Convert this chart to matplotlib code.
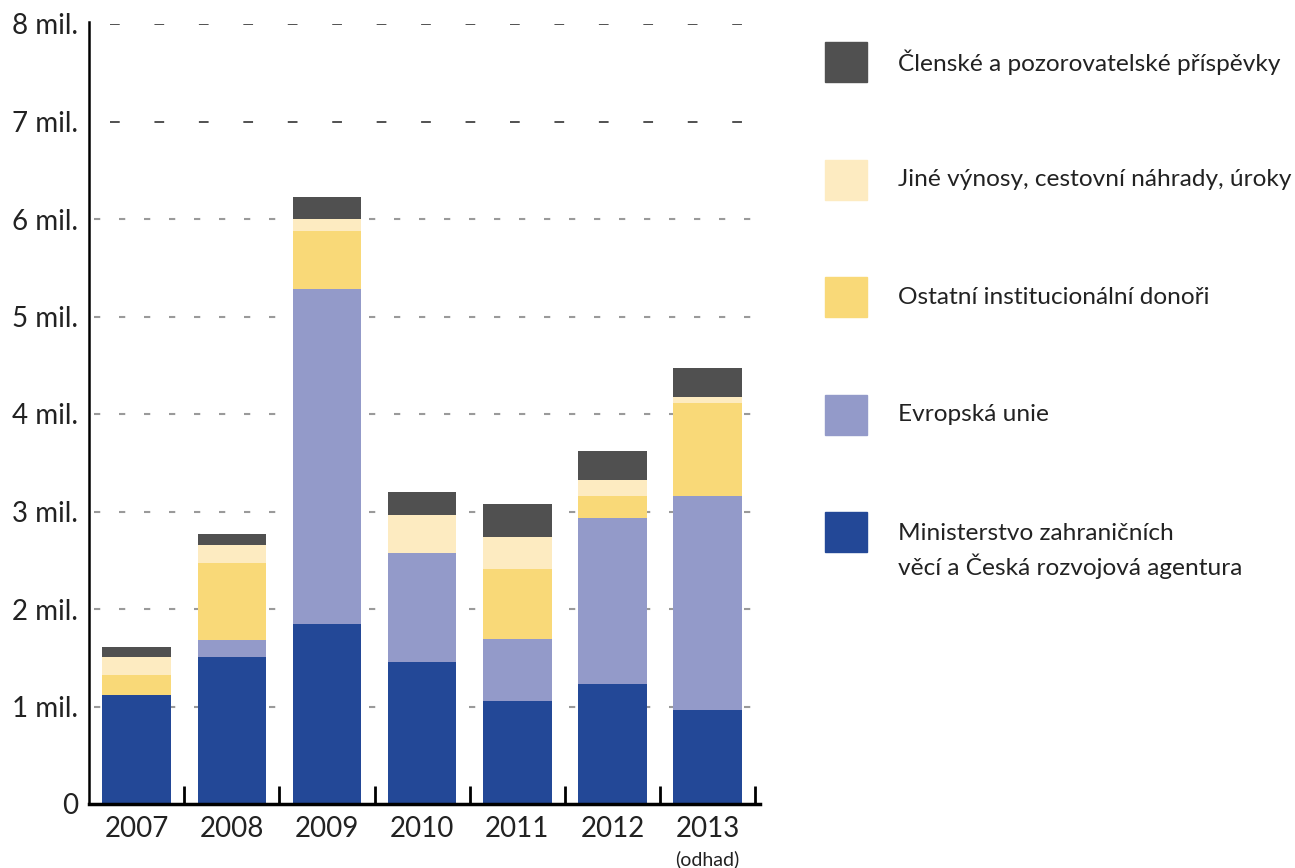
import matplotlib
matplotlib.use('Agg')
import matplotlib.pyplot as plt
from matplotlib.patches import Rectangle

plt.rcParams['font.family'] = ['Lato', 'DejaVu Sans']
plt.rcParams['lines.scale_dashes'] = False

years = ['2007', '2008', '2009', '2010', '2011', '2012', '2013']
mzv = [1.12, 1.51, 1.85, 1.46, 1.06, 1.23, 0.96]
eu = [0.0, 0.17, 3.43, 1.11, 0.63, 1.70, 2.20]
ostatni = [0.20, 0.79, 0.60, 0.0, 0.72, 0.23, 0.95]
jine = [0.19, 0.19, 0.12, 0.39, 0.33, 0.16, 0.06]
clenske = [0.10, 0.11, 0.23, 0.24, 0.34, 0.30, 0.30]

series = [
    ('Ministerstvo zahraničních\nvěcí a Česká rozvojová agentura', mzv, '#234897'),
    ('Evropská unie', eu, '#939ac9'),
    ('Ostatní institucionální donoři', ostatni, '#f9d978'),
    ('Jiné výnosy, cestovní náhrady, úroky', jine, '#fdebc1'),
    ('Členské a pozorovatelské příspěvky', clenske, '#505050'),
]
ytick_labels = ['0', '1 mil.', '2 mil.', '3 mil.', '4 mil.', '5 mil.', '6 mil.', '7 mil.', '8 mil.']

fig = plt.figure(figsize=(12.95, 8.68), dpi=100)
ax = fig.add_axes([89 / 1295, 1 - 804 / 868, (760 - 89) / 1295, (804 - 24) / 868])

x = list(range(len(years)))

# grid lines
for v in range(1, 9):
    if v >= 7:
        ax.plot([-0.28, 6.5], [v, v], color='#333333', lw=1.2, dashes=(7, 25), zorder=0)
    else:
        ax.plot([-0.45, 6.5], [v, v], color='#9a9a9a', lw=1.5, dashes=(4.5, 13.5), zorder=0)

bottom = [0.0] * len(years)
for name, vals, col in series:
    ax.bar(x, vals, width=0.72, bottom=bottom, color=col, zorder=2)
    bottom = [b + v for b, v in zip(bottom, vals)]

ax.set_xlim(-0.5, 6.55)
ax.set_ylim(0, 8)

for s in ['top', 'right']:
    ax.spines[s].set_visible(False)
ax.spines['left'].set_linewidth(1.8)
ax.spines['bottom'].set_linewidth(2.5)
ax.spines['left'].set_bounds(0, 8.02)

ax.set_yticks(range(9))
ax.set_yticklabels(ytick_labels, fontsize=20, color='#222222')
ax.tick_params(axis='y', length=0, pad=8)

ax.set_xticks([i + 0.5 for i in x])
ax.set_xticklabels([])
ax.tick_params(axis='x', direction='in', length=13, width=2, color='black')
for i, yr in enumerate(years):
    ax.text(i, -0.12, yr, ha='center', va='top', fontsize=20, color='#222222')
ax.text(6, -0.47, '(odhad)', ha='center', va='top', fontsize=14, color='#222222')

# legend drawn manually on the right
leg_tops = [42, 160, 277, 395, 512]
for (name, vals, col), top in zip(series[::-1], leg_tops):
    fig.patches.append(Rectangle((825 / 1295, 1 - (top + 40) / 868), 42 / 1295, 40 / 868,
                                 transform=fig.transFigure, color=col))
    if '\n' in name:
        fig.text(898 / 1295, 1 - (top + 11) / 868, name, ha='left', va='top',
                 fontsize=17.6, color='#222222', linespacing=1.42)
    else:
        fig.text(898 / 1295, 1 - (top + 20) / 868, name, ha='left', va='center',
                 fontsize=17.6, color='#222222')

fig.savefig('out.png', dpi=100)
